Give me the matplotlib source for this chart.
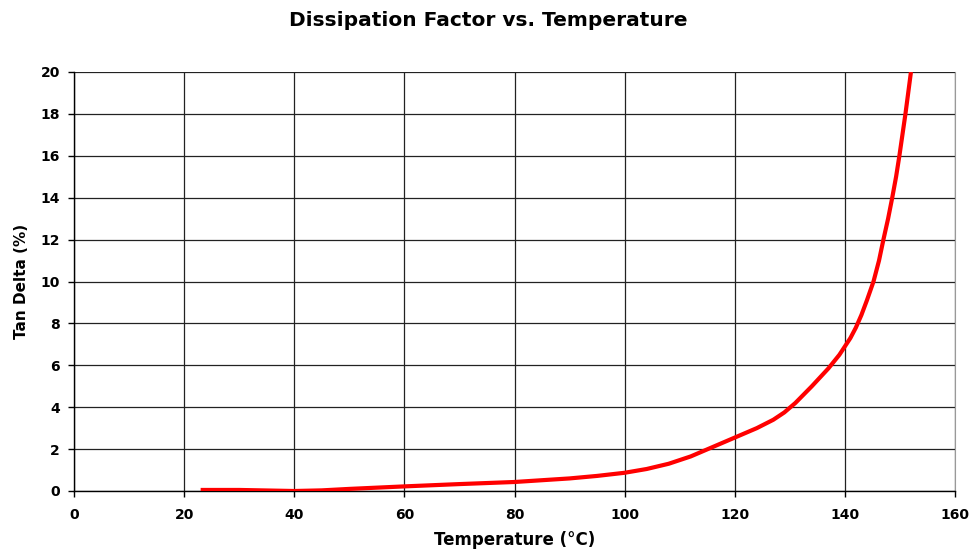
import matplotlib.pyplot as plt

plt.rcParams['font.family'] = ['DejaVu Sans']
plt.rcParams['font.weight'] = 'bold'

# data
temperature = [23, 30, 40, 45, 50, 60, 70, 80, 90, 95, 100, 104, 108, 112, 116,
               120, 124, 127, 129, 131, 134, 137, 139, 140, 141, 142, 143, 144,
               145.2, 146.2, 147, 147.85, 148.6, 149.3, 149.9, 150.45, 151,
               151.5, 152]
tan_delta = [0.05, 0.05, 0.0, 0.03, 0.1, 0.22, 0.33, 0.43, 0.6, 0.72, 0.87, 1.05,
             1.3, 1.65, 2.1, 2.55, 3.0, 3.4, 3.75, 4.2, 5.0, 5.85, 6.5, 6.9, 7.3,
             7.8, 8.4, 9.1, 10.0, 11.0, 12.0, 13.0, 14.0, 15.0, 16.0, 17.0, 18.0,
             19.0, 20.0]
x_ticks = list(range(0, 161, 20))
y_ticks = list(range(0, 21, 2))

fig = plt.figure(figsize=(9.76, 5.56), dpi=100)
ax = fig.add_axes([74 / 976, 1 - 491 / 556, (955 - 74) / 976, (491 - 72) / 556])

ax.plot(temperature, tan_delta, color='#ff0000', linewidth=3.0,
        solid_capstyle='butt', solid_joinstyle='round', zorder=3)

ax.set_xlim(0, 160)
ax.set_ylim(0, 20)
ax.set_xticks(x_ticks)
ax.set_yticks(y_ticks)
ax.grid(True, color='#222222', linewidth=0.9)
ax.set_axisbelow(True)

ax.spines['top'].set_visible(False)
ax.spines['right'].set_color('#999999')
for s in ['left', 'bottom']:
    ax.spines[s].set_color('black')
    ax.spines[s].set_linewidth(1.0)

ax.tick_params(direction='out', length=4, width=1, labelsize=10)
ax.tick_params(axis='x', pad=8)
ax.tick_params(axis='y', pad=6)
for lab in ax.get_xticklabels() + ax.get_yticklabels():
    lab.set_fontweight('bold')

ax.set_xlabel('Temperature (°C)', fontsize=12, fontweight='bold', labelpad=7)
ax.set_ylabel('Tan Delta (%)', fontsize=11, fontweight='bold', labelpad=8)
fig.text(0.5, 1 - 20 / 556, 'Dissipation Factor vs. Temperature',
         ha='center', va='center', fontsize=14.5, fontweight='bold')

fig.savefig('out.png', dpi=100)
